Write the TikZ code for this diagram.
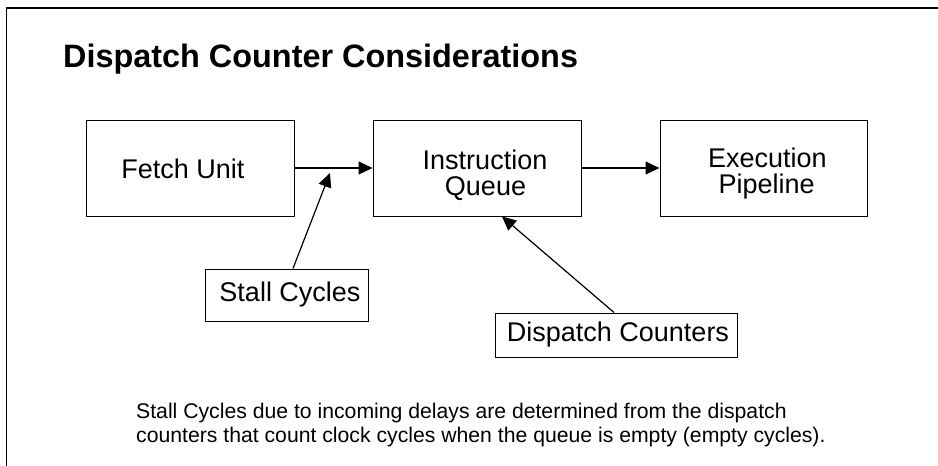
\documentclass[tikz,border=0pt]{standalone}
\usepackage{fontspec}
\setmainfont{Liberation Sans}
\usetikzlibrary{arrows.meta}
\tikzset{
  box/.style={draw=black, line width=1pt, inner sep=0pt, fill=white},
  lbl/.style={anchor=base, inner sep=0pt, font=\fontsize{27}{27}\selectfont},
  note/.style={anchor=base west, inner sep=0pt, font=\fontsize{21.2}{24}\selectfont},
  conn/.style={line width=1.2pt, -{Triangle[length=14pt,width=13pt]}},
}
\begin{document}
\begin{tikzpicture}[x=1pt,y=-1pt]
\useasboundingbox (0,0) rectangle (938,466);
\draw[line width=1.6pt] (938,8) -- (6.5,8) -- (6.5,466);
\node[anchor=base west, inner sep=0pt, font=\fontsize{32.4}{32}\selectfont\bfseries] (title) at (63,67) {Dispatch Counter Considerations};
% boxes
\node[box, minimum width=208pt, minimum height=96pt] (fetch) at (190,168) {};
\node[box, minimum width=208pt, minimum height=96pt] (iq) at (477,168) {};
\node[box, minimum width=207pt, minimum height=96pt] (ep) at (763.5,168) {};
\node[box, minimum width=163pt, minimum height=52pt] (stall) at (286.5,295) {};
\node[box, minimum width=242pt, minimum height=44pt] (dc) at (616,335) {};
% texts
\node[lbl] (fetchtxt) at (183,178) {Fetch Unit};
\node[lbl] (iqtxt1) at (485,169.3) {Instruction};
\node[lbl] (iqtxt2) at (485.5,195) {Queue};
\node[lbl] (eptxt1) at (767.3,167.7) {Execution};
\node[lbl] (eptxt2) at (766.7,193.3) {Pipeline};
\node[lbl] (stalltxt) at (290,301.7) {Stall Cycles};
\node[lbl] (dctxt) at (618,341.7) {Dispatch Counters};
% connectors
\draw[conn] (fetch.east) -- (iq.west);
\draw[conn] (iq.east) -- (ep.west);
\coordinate (stalltip) at (330,173);
\draw[conn] ([xshift=6.5pt]stall.north) -- (stalltip);
\draw[conn] ([xshift=-2pt]dc.north) -- ([xshift=25pt]iq.south);
% note
\node[note] (note1) at (136,418) {Stall Cycles due to incoming delays are determined from the dispatch};
\node[note] (note2) at (136,442) {counters that count clock cycles when the queue is empty (empty cycles).};
\end{tikzpicture}
\end{document}
